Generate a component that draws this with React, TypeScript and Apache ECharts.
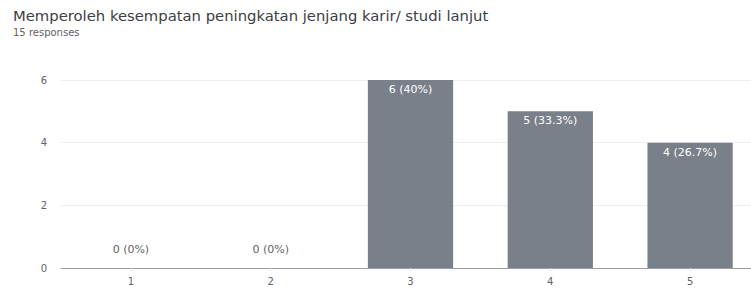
import React, { useEffect, useRef } from "react";
import * as echarts from "echarts";

const categories = ["1", "2", "3", "4", "5"];
const counts = [0, 0, 6, 5, 4];
const percents = ["0%", "0%", "40%", "33.3%", "26.7%"];
const yTicks = [0, 2, 4, 6];

const FONT = "DejaVu Sans";

export default function App() {
  const ref = useRef<HTMLDivElement>(null);
  useEffect(() => {
    document.body.style.margin = "0";
    document.body.style.overflow = "hidden";
    const chart = echarts.init(ref.current!, null, { renderer: "svg" });
    chart.setOption({
      animation: false,
      backgroundColor: "#ffffff",
      title: {
        text: "Memperoleh kesempatan peningkatan jenjang karir/ studi lanjut",
        subtext: "15 responses",
        left: 8,
        top: 3,
        itemGap: 4,
        textStyle: { fontFamily: FONT, fontSize: 14.8, fontWeight: "normal", color: "#3c4043" },
        subtextStyle: { fontFamily: FONT, fontSize: 10, color: "#5f6368" },
      },
      grid: { left: 61, right: 0, top: 80, bottom: 23 },
      xAxis: {
        type: "category",
        data: categories,
        axisLine: { lineStyle: { color: "#9aa0a6" } },
        axisTick: { show: true, alignWithLabel: true, length: 3, lineStyle: { color: "#dadce0" } },
        axisLabel: { color: "#5f6368", fontSize: 10, fontFamily: FONT, margin: 8 },
      },
      yAxis: {
        type: "value",
        min: yTicks[0],
        max: yTicks[yTicks.length - 1],
        interval: 2,
        axisLine: { show: false },
        axisTick: { show: false },
        axisLabel: { color: "#5f6368", fontSize: 10, fontFamily: FONT, margin: 14 },
        splitLine: { lineStyle: { color: "#eeeeee" } },
      },
      series: [
        {
          type: "bar",
          barWidth: "61%",
          itemStyle: { color: "#7a8089" },
          data: counts.map((v, i) => ({
            value: v,
            label: {
              show: true,
              position: v === 0 ? "top" : "insideTop",
              distance: v === 0 ? 13 : 4,
              formatter: `${v} (${percents[i]})`,
              color: v === 0 ? "#5f6368" : "#ffffff",
              fontSize: 11,
              fontFamily: FONT,
            },
          })),
        },
      ],
    });
    return () => chart.dispose();
  }, []);
  return (
    <div style={{ width: 751, height: 291, overflow: "hidden" }}>
      <div ref={ref} style={{ width: 760, height: 291 }} />
    </div>
  );
}
